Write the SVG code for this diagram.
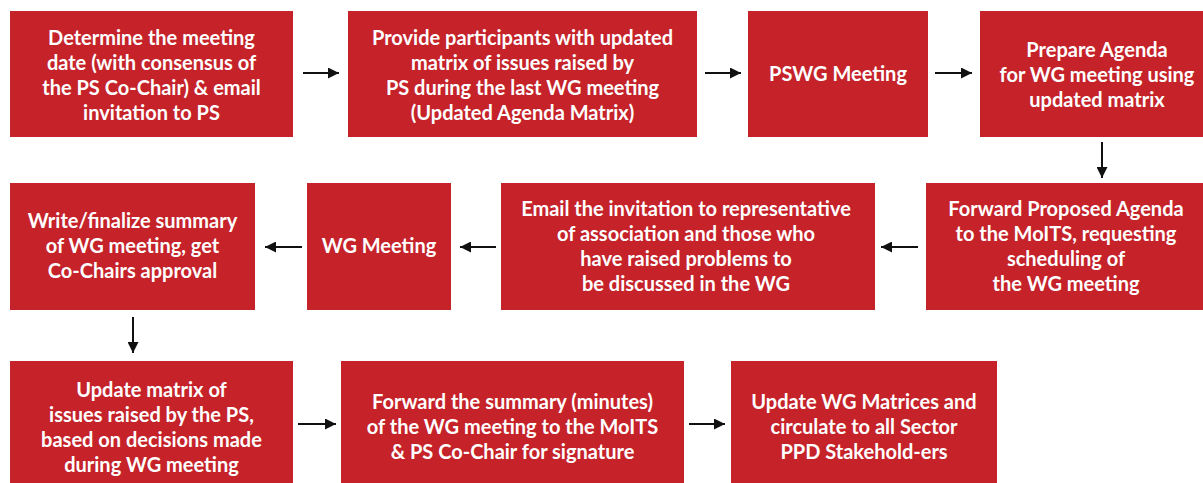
<svg xmlns="http://www.w3.org/2000/svg" width="1203" height="483" viewBox="0 0 1203 483">
  <style>
    .box { fill: #C5222A; }
    .lbl { font-family: Lato, "Open Sans", sans-serif; font-weight: 700; font-size: 20px; fill: #FFFFFF; text-anchor: middle; }
    .edge { stroke: #111111; stroke-width: 2; fill: none; marker-end: url(#head); }
  </style>
  <defs>
    <marker id="head" viewBox="0 0 10 10" refX="10" refY="5" markerWidth="5.5" markerHeight="5.5" markerUnits="strokeWidth" orient="auto">
      <path d="M0,0 L10,5 L0,10 Z" fill="#111111"/>
    </marker>
  </defs>

  <rect width="1203" height="483" fill="#FFFFFF"/>

  <!-- row 1 -->
  <g id="determine-date">
    <rect class="box" x="10" y="11" width="283" height="126"/>
    <text class="lbl" x="151.5" y="44.5">Determine the meeting</text>
    <text class="lbl" x="151.5" y="69.5">date (with consensus of</text>
    <text class="lbl" x="151.5" y="94.5">the PS Co-Chair) &amp; email</text>
    <text class="lbl" x="151.5" y="119.5">invitation to PS</text>
  </g>
  <g id="provide-matrix">
    <rect class="box" x="348" y="11" width="349" height="126"/>
    <text class="lbl" x="522.5" y="44.5">Provide participants with updated</text>
    <text class="lbl" x="522.5" y="69.5">matrix of issues raised by</text>
    <text class="lbl" x="522.5" y="94.5">PS during the last WG meeting</text>
    <text class="lbl" x="522.5" y="119.5">(Updated Agenda Matrix)</text>
  </g>
  <g id="pswg-meeting">
    <rect class="box" x="748" y="11" width="180" height="126"/>
    <text class="lbl" x="838" y="80.5">PSWG Meeting</text>
  </g>
  <g id="prepare-agenda">
    <rect class="box" x="980" y="11" width="230" height="126"/>
    <text class="lbl" x="1097" y="57">Prepare Agenda</text>
    <text class="lbl" x="1097" y="82">for WG meeting using</text>
    <text class="lbl" x="1097" y="107">updated matrix</text>
  </g>

  <!-- row 2 -->
  <g id="forward-agenda">
    <rect class="box" x="926" y="183" width="284" height="127"/>
    <text class="lbl" x="1066" y="215.5">Forward Proposed Agenda</text>
    <text class="lbl" x="1066" y="240.5">to the MoITS, requesting</text>
    <text class="lbl" x="1066" y="265.5">scheduling of</text>
    <text class="lbl" x="1066" y="290.5">the WG meeting</text>
  </g>
  <g id="email-invitation">
    <rect class="box" x="501" y="183" width="374" height="127"/>
    <text class="lbl" x="686" y="215.5">Email the invitation to representative</text>
    <text class="lbl" x="686" y="240.5">of association and those who</text>
    <text class="lbl" x="686" y="265.5">have raised problems to</text>
    <text class="lbl" x="686" y="290.5">be discussed in the WG</text>
  </g>
  <g id="wg-meeting">
    <rect class="box" x="307" y="183" width="144" height="127"/>
    <text class="lbl" x="379" y="253">WG Meeting</text>
  </g>
  <g id="write-summary">
    <rect class="box" x="10" y="183" width="245" height="127"/>
    <text class="lbl" x="132.5" y="228">Write/finalize summary</text>
    <text class="lbl" x="132.5" y="253">of WG meeting, get</text>
    <text class="lbl" x="132.5" y="278">Co-Chairs approval</text>
  </g>

  <!-- row 3 -->
  <g id="update-matrix">
    <rect class="box" x="10" y="361" width="283" height="133"/>
    <text class="lbl" x="151.5" y="396.5">Update matrix of</text>
    <text class="lbl" x="151.5" y="421.5">issues raised by the PS,</text>
    <text class="lbl" x="151.5" y="446.5">based on decisions made</text>
    <text class="lbl" x="151.5" y="471.5">during WG meeting</text>
  </g>
  <g id="forward-summary">
    <rect class="box" x="341" y="361" width="343" height="133"/>
    <text class="lbl" x="512.5" y="409">Forward the summary (minutes)</text>
    <text class="lbl" x="512.5" y="434">of the WG meeting to the MoITS</text>
    <text class="lbl" x="512.5" y="459">&amp; PS Co-Chair for signature</text>
  </g>
  <g id="update-wg-matrices">
    <rect class="box" x="731" y="361" width="266" height="133"/>
    <text class="lbl" x="864" y="409">Update WG Matrices and</text>
    <text class="lbl" x="864" y="434">circulate to all Sector</text>
    <text class="lbl" x="864" y="459">PPD Stakehold-ers</text>
  </g>

  <!-- connectors -->
  <g id="connectors">
    <path class="edge" d="M303,73 H339"/>
    <path class="edge" d="M705,73 H741"/>
    <path class="edge" d="M935,73 H972"/>
    <path class="edge" d="M1102,142 V178"/>
    <path class="edge" d="M918,247 H881"/>
    <path class="edge" d="M496,247 H460"/>
    <path class="edge" d="M302,247 H265"/>
    <path class="edge" d="M133,317 V353"/>
    <path class="edge" d="M298,424 H336"/>
    <path class="edge" d="M689,424 H725"/>
  </g>
</svg>
